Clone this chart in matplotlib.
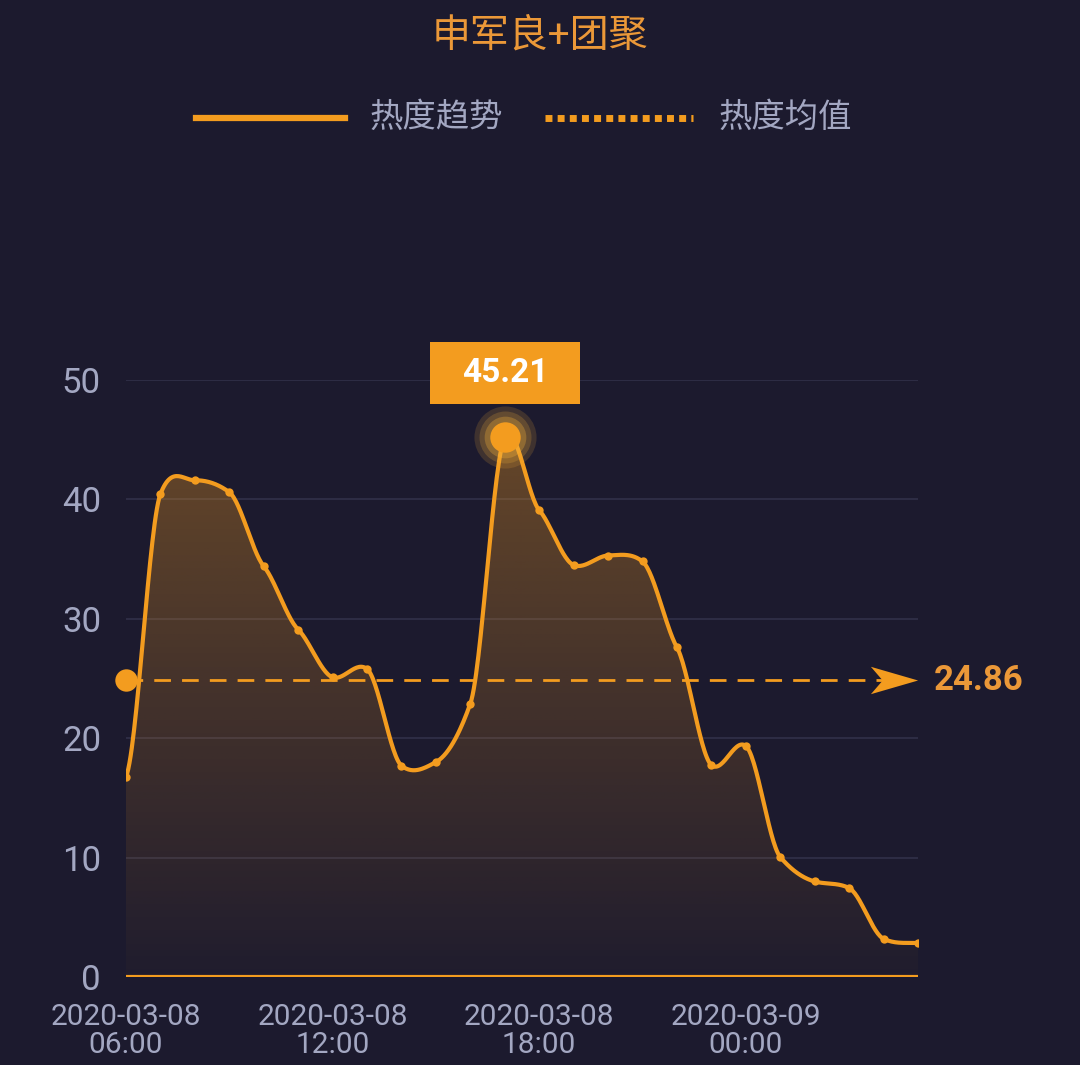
import numpy as np
import matplotlib
matplotlib.use("Agg")
import matplotlib.pyplot as plt
from matplotlib.path import Path
from matplotlib.patches import Rectangle

plt.rcParams['font.family'] = ['Roboto', 'Noto Sans CJK SC', 'DejaVu Sans']

# data: hourly heat values, 2020-03-08 06:00 .. 2020-03-09 05:00
title = "申军良+团聚"
heat = [16.75, 40.45, 41.6, 40.6, 34.4, 29.1, 25.1, 25.8, 17.7, 18.0, 22.9, 45.21,
        39.1, 34.5, 35.3, 34.8, 27.6, 17.75, 19.35, 10.05, 8.0, 7.45, 3.2, 2.85]
mean_value = 24.86
tick_pos = [0, 6, 12, 18]
tick_labels = ["2020-03-08\n06:00", "2020-03-08\n12:00", "2020-03-08\n18:00", "2020-03-09\n00:00"]
legend_labels = ["热度趋势", "热度均值"]

BG = "#1c1a2e"
ORANGE = "#f39c1f"
TITLE_C = "#eb9838"
GREY = "#a3a7c2"
GRID = "#2d2c44"


def smooth(x, y, n=30, t=0.3):
    # cardinal spline through the points (rendering only)
    x = np.asarray(x, float)
    y = np.asarray(y, float)
    xs, ys = [], []
    for i in range(len(x) - 1):
        y0 = y[i - 1] if i > 0 else y[i]
        y3 = y[i + 2] if i + 2 < len(y) else y[i + 1]
        m1 = t * (y[i + 1] - y0)
        m2 = t * (y3 - y[i])
        s = np.linspace(0, 1, n, endpoint=False)
        h00 = 2 * s**3 - 3 * s**2 + 1
        h10 = s**3 - 2 * s**2 + s
        h01 = -2 * s**3 + 3 * s**2
        h11 = s**3 - s**2
        xs.append(x[i] + s * (x[i + 1] - x[i]))
        ys.append(h00 * y[i] + h10 * m1 + h01 * y[i + 1] + h11 * m2)
    xs.append([x[-1]])
    ys.append([y[-1]])
    return np.concatenate(xs), np.concatenate(ys)


x = np.arange(len(heat))
sx, sy = smooth(x, heat)

fig = plt.figure(figsize=(10.8, 10.65), dpi=100, facecolor=BG)
ax = fig.add_axes([126 / 1080, 88 / 1065, 792 / 1080, 597 / 1065])
ax.set_facecolor(BG)
ax.set_xlim(0, len(heat) - 1)
ax.set_ylim(0, 50)

for v in [10, 20, 30, 40, 50]:
    ax.axhline(v, color=GRID, lw=1.5, zorder=1)

# gradient area under the curve
poly = ax.fill_between(sx, sy, 0, color="none", lw=0)
grad = np.zeros((200, 2, 4))
rgb = matplotlib.colors.to_rgb(ORANGE)
grad[:, :, 0], grad[:, :, 1], grad[:, :, 2] = rgb
grad[:, :, 3] = np.linspace(0.02, 0.34, 200)[:, None]
im = ax.imshow(grad, extent=[0, len(heat) - 1, 0, max(heat)], origin='lower',
               aspect='auto', zorder=2)
im.set_clip_path(poly.get_paths()[0], transform=ax.transData)

ax.plot(sx, sy, color=ORANGE, lw=3, zorder=4, solid_capstyle='round')
ax.scatter(x, heat, s=36, color=ORANGE, zorder=5, lw=0)

# baseline
ax.axhline(0, color=ORANGE, lw=3, zorder=3)

# mean line with notched arrow head
ax.plot([0, 22.4], [mean_value] * 2, color=ORANGE, lw=2, dashes=(6, 4), zorder=4)
ax.scatter([0], [mean_value], s=260, color=ORANGE, zorder=6, lw=0, clip_on=False)
arrow = Path([(1, 0), (-1, 0.58), (-0.5, 0), (-1, -0.58), (1, 0)],
             [Path.MOVETO, Path.LINETO, Path.LINETO, Path.LINETO, Path.CLOSEPOLY])
ax.plot([len(heat) - 1 - 0.7], [mean_value], marker=arrow, markersize=34,
        color=ORANGE, mew=0, zorder=6, clip_on=False, ls='none')
ax.text(len(heat) - 1 + 0.45, mean_value, f"{mean_value:.2f}", color=TITLE_C,
        fontsize=25, fontweight='bold', va='center', ha='left')

# peak marker
imax = int(np.argmax(heat))
for s, a in [(2000, 0.16), (1400, 0.2), (900, 0.3)]:
    ax.scatter([imax], [heat[imax]], s=s, color="#f7b23a", alpha=a, lw=0, zorder=6, clip_on=False)
ax.scatter([imax], [heat[imax]], s=480, color=ORANGE, lw=0, zorder=7, clip_on=False)
ax.add_patch(Rectangle((imax - 2.18, heat[imax] + 2.78), 4.36, 5.2, fc=ORANGE, ec='none',
                       zorder=8, clip_on=False))
ax.text(imax, heat[imax] + 5.4, f"{heat[imax]:.2f}", color="white", fontsize=24,
        fontweight='bold', ha='center', va='center', zorder=9)

for sp in ax.spines.values():
    sp.set_visible(False)
ax.set_yticks([0, 10, 20, 30, 40, 50])
ax.tick_params(axis='y', length=0, labelsize=25, labelcolor=GREY, pad=18)
ax.set_xticks(tick_pos)
ax.set_xticklabels(tick_labels, linespacing=1.0)
ax.tick_params(axis='x', length=0, labelsize=21.5, labelcolor=GREY, pad=19)

# title and legend
fig.text(0.5, 1 - 36 / 1065, title, color=TITLE_C, fontsize=28, ha='center', va='center')
ly = 1 - 118 / 1065
fig.add_artist(plt.Line2D([196 / 1080, 345 / 1080], [ly, ly], color=ORANGE, lw=4.5))
fig.text(370 / 1080, ly, legend_labels[0], color=GREY, fontsize=24, va='center', ha='left')
fig.add_artist(plt.Line2D([545 / 1080, 693 / 1080], [ly, ly], color=ORANGE, lw=5,
                          dashes=(1, 0.75)))
fig.text(719 / 1080, ly, legend_labels[1], color=GREY, fontsize=24, va='center', ha='left')

fig.savefig("out.png", dpi=100, facecolor=BG)
